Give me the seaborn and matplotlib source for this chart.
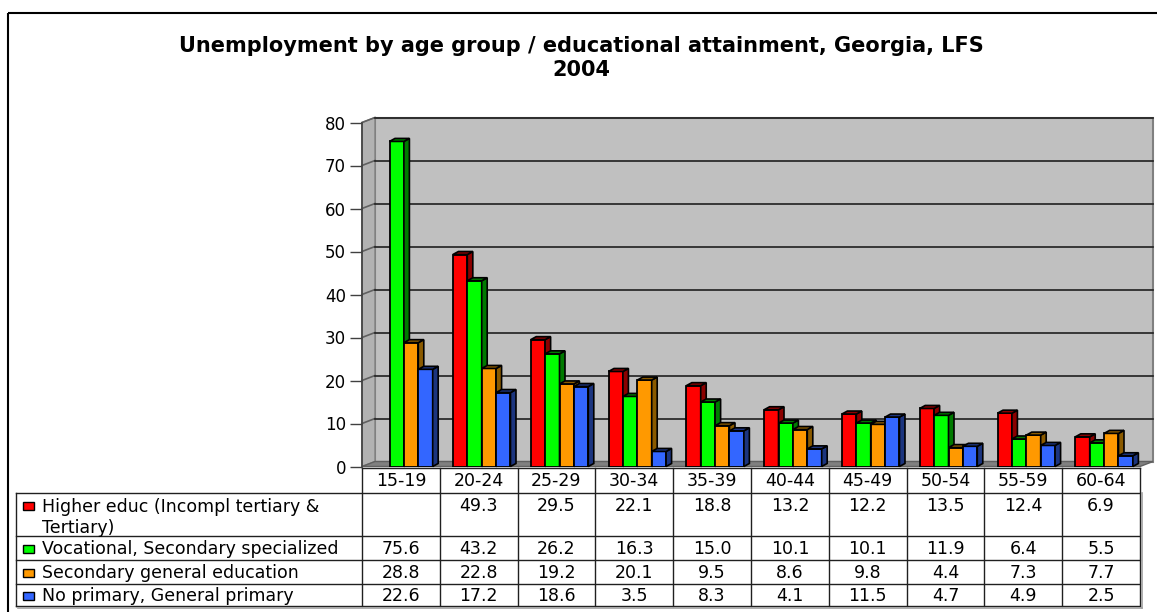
import numpy as np
import pandas as pd
import matplotlib
matplotlib.use('Agg')
import matplotlib.pyplot as plt
from matplotlib.patches import Polygon, Rectangle
import seaborn as sns

# DATA
ages = ['15-19', '20-24', '25-29', '30-34', '35-39',
        '40-44', '45-49', '50-54', '55-59', '60-64']
groups = ['Higher educ (Incompl tertiary &\nTertiary)',
          'Vocational, Secondary specialized',
          'Secondary general education',
          'No primary, General primary']
higher = [np.nan, 49.3, 29.5, 22.1, 18.8, 13.2, 12.2, 13.5, 12.4, 6.9]
vocational = [75.6, 43.2, 26.2, 16.3, 15.0, 10.1, 10.1, 11.9, 6.4, 5.5]
secondary = [28.8, 22.8, 19.2, 20.1, 9.5, 8.6, 9.8, 4.4, 7.3, 7.7]
primary = [22.6, 17.2, 18.6, 3.5, 8.3, 4.1, 11.5, 4.7, 4.9, 2.5]
yticks = [0, 10, 20, 30, 40, 50, 60, 70, 80]
title = 'Unemployment by age group / educational attainment, Georgia, LFS\n2004'

colors = ['#FF0000', '#00FF00', '#FF9900', '#3366FF']
dark_colors = ['#8B0000', '#007A00', '#8A5A00', '#1C357F']

series = [higher, vocational, secondary, primary]
df = pd.DataFrame({'age': ages * 4,
                   'group': [g for g in groups for _ in ages],
                   'value': [v for s in series for v in s]})

# PLOTTING
W, H = 1157, 612
fig = plt.figure(figsize=(W / 100, H / 100), dpi=100)
plt.rcParams['font.family'] = ['DejaVu Sans']

# background axes in pixel coordinates (frame + table)
bg = fig.add_axes([0, 0, 1, 1], zorder=0)
bg.set_xlim(0, W)
bg.set_ylim(H, 0)
bg.axis('off')
bg.add_patch(Rectangle((8, 13), W + 20, H + 20, fill=False, ec='black', lw=1.5))

# main chart axes: front plane from x=362..1140, y=466.5 (0) .. 122.5 (80)
x_left, x_right, y_zero, y_top = 362, 1140, 466.5, 122.5
ax = fig.add_axes([x_left / W, (H - y_zero) / H, (x_right - x_left) / W,
                   (y_zero - y_top) / H], zorder=1)
ax.set_facecolor('none')

sns.barplot(data=df, x='age', y='value', hue='group', hue_order=groups,
            order=ages, palette=colors, width=0.74, saturation=1,
            edgecolor='black', linewidth=1.3, errorbar=None, legend=False, ax=ax)
ax.set_xlim(-0.5, 9.5)
ax.set_ylim(0, 80)

px_x = (x_right - x_left) / 10.0
px_y = (y_zero - y_top) / 80.0
# depth of the back wall and of the bars (in data units)
dxw, dyw = 13 / px_x, 5 / px_y
dxb, dyb = 5.5 / px_x, 3 / px_y
shift = 3 / px_x

# back wall, left panel, floor
ax.add_patch(Rectangle((-0.5 + dxw, dyw), 10, 80, fc='#C0C0C0', ec='#808080',
                       lw=1.5, zorder=0, clip_on=False))
ax.add_patch(Polygon([(-0.5, 0), (-0.5 + dxw, dyw), (-0.5 + dxw, 80 + dyw), (-0.5, 80)],
                     closed=True, fc='#B2B2B2', ec='#808080', lw=1, zorder=0.5, clip_on=False))
for y in yticks[1:]:
    ax.plot([-0.5, -0.5 + dxw], [y, y + dyw], color='#606060', lw=1.2, zorder=0.6, clip_on=False)
    ax.plot([-0.5 + dxw, 9.5 + dxw], [y + dyw, y + dyw], color='#202020', lw=1.2,
            zorder=0.6, clip_on=False)
ax.add_patch(Polygon([(-0.5, 0), (9.5, 0), (9.5 + dxw, dyw), (-0.5 + dxw, dyw)],
                     closed=True, fc='#808080', ec='#606060', lw=1, zorder=0.7, clip_on=False))

# pseudo 3d faces of the bars
for i, cont in enumerate(ax.containers):
    for bar in cont:
        h = bar.get_height()
        if not np.isfinite(h) or h <= 0:
            continue
        bar.set_x(bar.get_x() + shift)
        x0, w = bar.get_x(), bar.get_width()
        bar.set_zorder(3 + i)
        ax.add_patch(Polygon([(x0 + w, 0), (x0 + w + dxb, dyb), (x0 + w + dxb, h + dyb), (x0 + w, h)],
                             closed=True, fc=dark_colors[i], ec='black', lw=1.2,
                             zorder=3 + i + 0.1, clip_on=False))
        ax.add_patch(Polygon([(x0, h), (x0 + dxb, h + dyb), (x0 + w + dxb, h + dyb), (x0 + w, h)],
                             closed=True, fc=dark_colors[i], ec='black', lw=1.2,
                             zorder=3 + i + 0.1, clip_on=False))

ax.set_yticks(yticks)
ax.set_xticks([])
ax.set_xlabel('')
ax.set_ylabel('')
ax.tick_params(axis='y', length=8.5, width=1, color='#404040', labelsize=12, pad=3)
for s in ['top', 'right', 'bottom']:
    ax.spines[s].set_visible(False)
ax.spines['left'].set_color('#404040')
ax.spines['left'].set_linewidth(1.2)

# TABLE
col_edges = [x_left + px_x * i for i in range(11)]
row_edges = [468, 493, 536, 560, 584, 606]
tab_left = 16
lc = '#202020'
fs = 12.5
bg.plot([x_left, x_right], [row_edges[0], row_edges[0]], color=lc, lw=1)
for y in row_edges[1:]:
    bg.plot([tab_left, x_right], [y, y], color=lc, lw=1)
bg.plot([tab_left, tab_left], [row_edges[1], row_edges[-1]], color=lc, lw=1)
for x in col_edges:
    bg.plot([x, x], [row_edges[0], row_edges[-1]], color=lc, lw=1)
# light shadow on the right/bottom of the table
bg.plot([x_right + 1.5, x_right + 1.5], [row_edges[1], row_edges[-1] + 1.5], color='#A0A0A0', lw=1.2)
bg.plot([tab_left + 2, x_right + 1.5], [row_edges[-1] + 1.5, row_edges[-1] + 1.5], color='#A0A0A0', lw=1.2)

for j, a in enumerate(ages):
    bg.text((col_edges[j] + col_edges[j + 1]) / 2, (row_edges[0] + row_edges[1]) / 2 + 1, a,
            ha='center', va='center', fontsize=fs)

for i, g in enumerate(groups):
    top, bot = row_edges[i + 1], row_edges[i + 2]
    if '\n' in g:
        yl = top + 13
        bg.text(42, yl - 8, g, ha='left', va='top', fontsize=fs, linespacing=1.2)
    else:
        yl = (top + bot) / 2 + 1
        bg.text(42, yl, g, ha='left', va='center', fontsize=fs)
    bg.add_patch(Rectangle((23, yl - 4), 11, 8, fc=colors[i], ec='black', lw=1))
    for j, v in enumerate(series[i]):
        if np.isfinite(v):
            bg.text((col_edges[j] + col_edges[j + 1]) / 2, yl, '{:.1f}'.format(v),
                    ha='center', va='center', fontsize=fs)

# TITLE
fig.text(581 / W, 1 - 58 / H, title, ha='center', va='center',
         fontsize=15, fontweight='bold', linespacing=1.25)

# OUTPUT
fig.savefig('out.png', dpi=100)
